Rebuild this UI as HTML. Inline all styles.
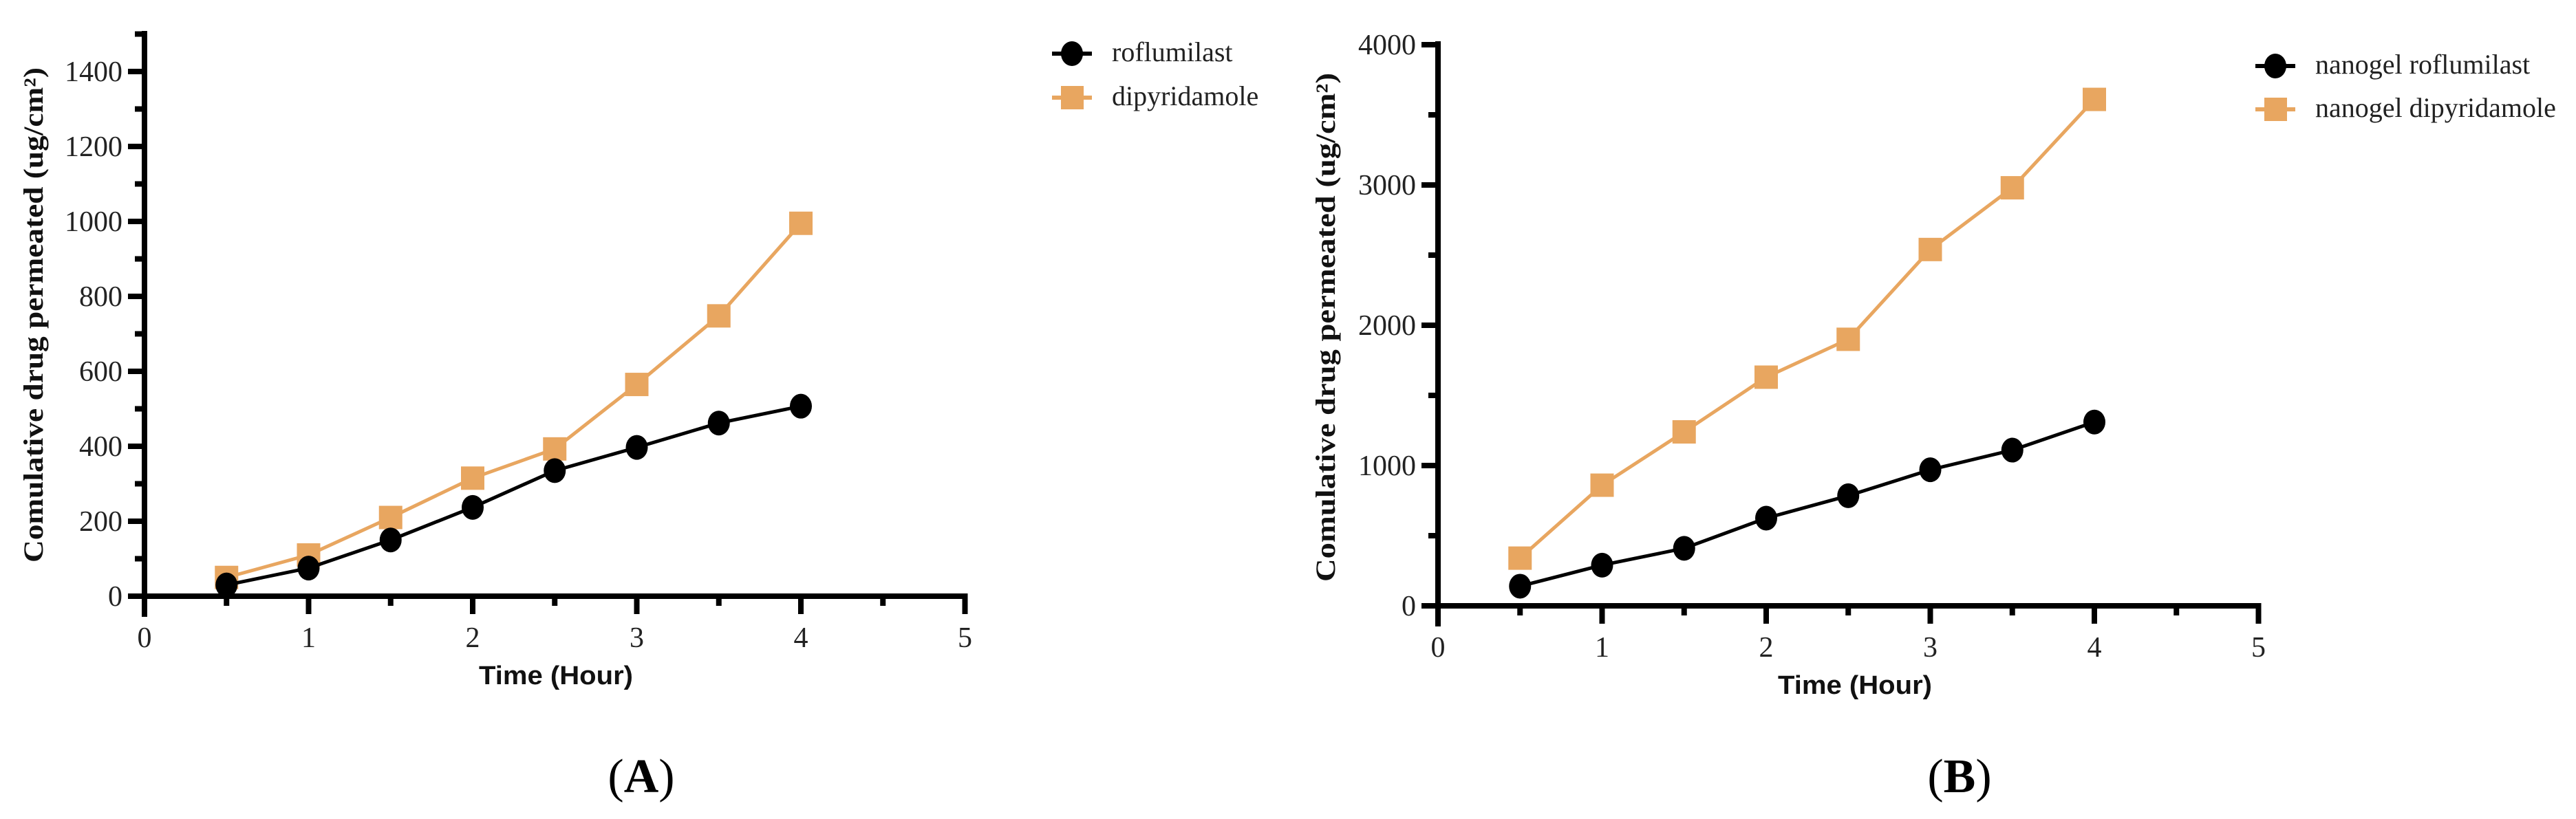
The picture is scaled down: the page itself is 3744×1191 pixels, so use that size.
<!DOCTYPE html>
<html><head><meta charset="utf-8">
<style>
html,body{margin:0;padding:0;background:#fff;}
svg{display:block;}
.tick{font-family:"Liberation Serif",serif;font-size:42px;fill:#222;}
.ytitle{font-family:"Liberation Serif",serif;font-weight:bold;font-size:40px;fill:#111;}
.xtitle{font-family:"Liberation Sans",sans-serif;font-weight:bold;font-size:38px;fill:#111;}
.leg{font-family:"Liberation Serif",serif;font-size:40px;fill:#222;}
.panel{font-family:"Liberation Serif",serif;font-size:70px;fill:#000;}
</style></head>
<body>
<svg id="fig" width="3744" height="1191" viewBox="0 0 3744 1191" xmlns="http://www.w3.org/2000/svg"></svg>
<script>
const timesA = [0.5,1,1.5,2,2.5,3,3.5,4];
const roflumilastA = [30,75,150,237,335,397,462,507];
const dipyridamoleA = [50,110,210,315,393,565,748,995];
const yTicksA = [0,200,400,600,800,1000,1200,1400];
const timesB = [0.5,1,1.5,2,2.5,3,3.5,4];
const roflumilastB = [140,290,410,625,785,970,1110,1310];
const dipyridamoleB = [340,860,1240,1630,1900,2540,2980,3610];
const yTicksB = [0,1000,2000,3000,4000];
const xTicks = [0,1,2,3,4,5];
const legendA = ["roflumilast","dipyridamole"];
const legendB = ["nanogel roflumilast","nanogel dipyridamole"];

const NS="http://www.w3.org/2000/svg";
const svg=document.getElementById('fig');
const ORANGE="#E8A660";
function mk(tag,attrs,parent){const e=document.createElementNS(NS,tag);for(const k in attrs)e.setAttribute(k,attrs[k]);(parent||svg).appendChild(e);return e;}

function chart(cfg){
  const g=mk('g',{});
  
  
  const xs=v=>cfg.x0+v*cfg.xu;
  const ys=v=>cfg.y0-v*cfg.yu;
  for(let v=0; v<=cfg.ymax+1e-9; v+=cfg.minor){
    const major = Math.abs(v/cfg.major-Math.round(v/cfg.major))<1e-6;
    const t=mk('line',{x1:cfg.x0-(major?24:14),x2:cfg.x0,y1:ys(v),y2:ys(v),stroke:'#000','stroke-width':8},g);
    
    
  }
  cfg.yTicks.forEach(v=>{
    const t=mk('text',{x:cfg.x0-32,y:ys(v)+14,'text-anchor':'end',class:'tick'},g);
    t.textContent=v;
    
    
  });
  for(let v=0; v<=5.0001; v+=0.5){
    const major=Math.abs(v-Math.round(v))<1e-6;
    const t=mk('line',{x1:xs(v),x2:xs(v),y1:cfg.y0,y2:cfg.y0+(major?26:14),stroke:'#000','stroke-width':8},g);
    
    
  }
  xTicks.forEach(v=>{
    const t=mk('text',{x:xs(v),y:cfg.y0+74,'text-anchor':'middle',class:'tick'},g);
    t.textContent=v;
    
    
  });
  const ya=mk('line',{x1:cfg.x0,x2:cfg.x0,y1:cfg.top,y2:cfg.y0+30,stroke:'#000','stroke-width':8},g);
  
  
  const xa=mk('line',{x1:cfg.x0-24,x2:xs(5)+4,y1:cfg.y0,y2:cfg.y0,stroke:'#000','stroke-width':8},g);
  
  
  const series=[{vals:cfg.s2,color:ORANGE,shape:'sq',name:'dipyridamole-series'},{vals:cfg.s1,color:'#000',shape:'ci',name:'roflumilast-series'}];
  series.forEach(s=>{
    const pts=cfg.times.map((t,i)=>xs(t)+','+ys(s.vals[i])).join(' ');
    const pl=mk('polyline',{points:pts,fill:'none',stroke:s.color,'stroke-width':5},g);
    
    
    cfg.times.forEach((t,i)=>{
      let m;
      if(s.shape==='sq') m=mk('rect',{x:xs(t)-17,y:ys(s.vals[i])-17,width:34,height:34,fill:s.color},g);
      else m=mk('ellipse',{cx:xs(t),cy:ys(s.vals[i]),rx:16,ry:18,fill:s.color},g);
      
      
    });
  });
  cfg.legend.forEach((lbl,i)=>{
    const ly=cfg.ly+i*cfg.lgap, lx=cfg.lx;
    const col=i===0?'#000':ORANGE;
    const l=mk('line',{x1:lx-29,x2:lx+29,y1:ly,y2:ly,stroke:col,'stroke-width':6},g);
    
    
    let m;
    if(i===0) m=mk('ellipse',{cx:lx,cy:ly,rx:16,ry:18,fill:col},g);
    else m=mk('rect',{x:lx-16,y:ly-17,width:33,height:34,fill:col},g);
    
    
    const t=mk('text',{x:lx+58,y:ly+11,class:'leg'},g);
    t.textContent=lbl;
    
    
  });
  const yt=mk('text',{x:0,y:0,class:'ytitle','text-anchor':'middle',transform:`translate(${cfg.ytx},${cfg.yty}) rotate(-90)`,textLength:cfg.ytl,lengthAdjust:'spacingAndGlyphs'},g);
  yt.textContent='Comulative drug permeated (ug/cm²)';
  
  
  const xt=mk('text',{x:cfg.xtx,y:cfg.y0+128,class:'xtitle','text-anchor':'middle',textLength:224,lengthAdjust:'spacingAndGlyphs'},g);
  xt.textContent='Time (Hour)';
  
  
  const pt=mk('text',{x:cfg.px,y:1152,class:'panel','text-anchor':'middle'},g);
  pt.innerHTML='(<tspan font-weight="bold">'+cfg.letter+'</tspan>)';
  
  
}

chart({name:'chart-a',x0:210,xu:238.5,y0:867,yu:109/200,ymax:1500,top:45,minor:100,major:200,yTicks:yTicksA,
  times:timesA,s1:roflumilastA,s2:dipyridamoleA,legend:legendA,lx:1558,ly:78,lgap:64,
  ytx:62,yty:458,ytl:720,xtx:808,px:932,letter:'A'});
chart({name:'chart-b',x0:2090,xu:238.5,y0:881,yu:204/1000,ymax:4000,top:60,minor:500,major:1000,yTicks:yTicksB,
  times:timesB,s1:roflumilastB,s2:dipyridamoleB,legend:legendB,lx:3307,ly:96,lgap:63,
  ytx:1940,yty:476,ytl:740,xtx:2696,px:2848,letter:'B'});
</script>
</body></html>
